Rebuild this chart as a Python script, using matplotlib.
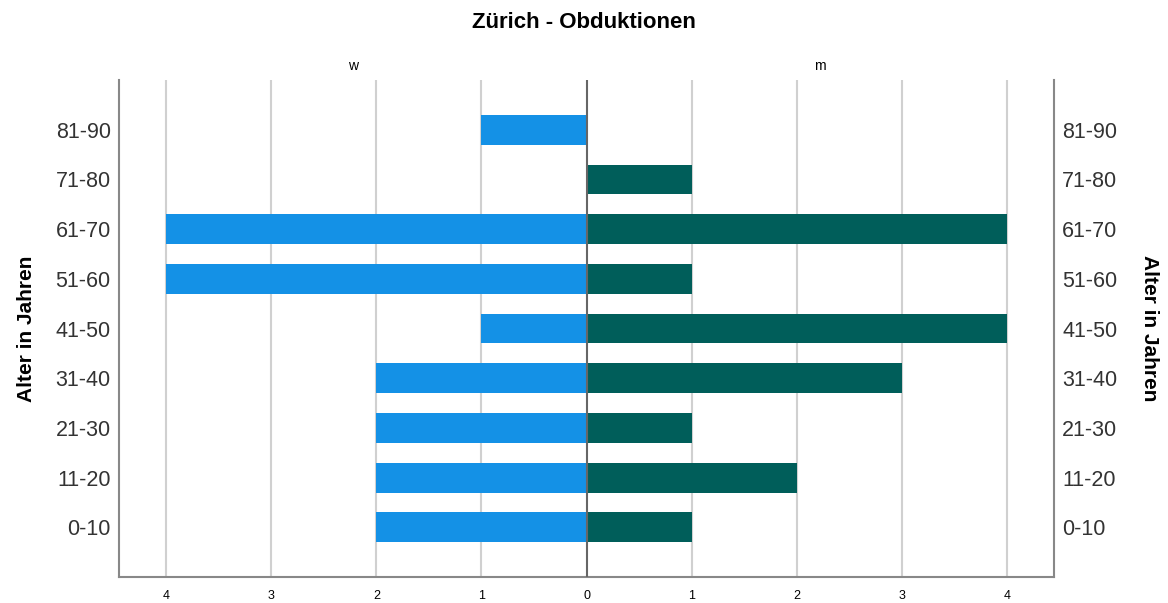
import numpy as np
import matplotlib.pyplot as plt

plt.rcParams['font.family'] = ['Liberation Sans', 'DejaVu Sans']

# Data
age_groups = ["0-10", "11-20", "21-30", "31-40", "41-50", "51-60", "61-70", "71-80", "81-90"]
female = [2, 2, 2, 2, 1, 4, 4, 0, 1]   # w
male = [1, 2, 1, 3, 4, 1, 4, 1, 0]     # m
x_ticks = [-4, -3, -2, -1, 0, 1, 2, 3, 4]

blue = '#1491E6'
teal = '#005E5A'

fig = plt.figure(figsize=(11.68, 6.03), dpi=100)
ax = fig.add_axes([0.1019, 0.0431, 0.8005, 0.8242])

y = np.arange(len(age_groups))
ax.barh(y, [-v for v in female], height=0.6, color=blue, zorder=3)
ax.barh(y, male, height=0.6, color=teal, zorder=3)

ax.set_xlim(-4.45, 4.45)
ax.set_ylim(-1, len(age_groups))

for t in x_ticks:
    if t != 0:
        ax.axvline(t, color='#d0d0d0', lw=1.5, zorder=1)
ax.axvline(0, color='#666666', lw=1.5, zorder=4)

ax.set_xticks(x_ticks)
ax.set_xticklabels([str(abs(t)) for t in x_ticks], fontsize=9)
ax.tick_params(axis='x', length=0, pad=9)
ax.tick_params(axis='y', length=0, pad=6, labelsize=15.5, labelcolor='#333333')
ax.set_yticks(y)
ax.set_yticklabels(age_groups)

for side in ['left', 'right', 'bottom']:
    ax.spines[side].set_color('#888888')
    ax.spines[side].set_linewidth(1.5)
ax.spines['top'].set_visible(False)

ax2 = ax.twinx()
ax2.set_ylim(ax.get_ylim())
ax2.set_yticks(y)
ax2.set_yticklabels(age_groups)
ax2.tick_params(axis='y', length=0, pad=6, labelsize=15.5, labelcolor='#333333')
for s in ax2.spines.values():
    s.set_visible(False)

ax.set_ylabel("Alter in Jahren", fontsize=15, fontweight='bold', labelpad=14)
ax2.set_ylabel("Alter in Jahren", fontsize=15, fontweight='bold', rotation=270, labelpad=30)

ax.text(-2.22, 1.015, "w", transform=ax.get_xaxis_transform(), ha='center', va='bottom', fontsize=10)
ax.text(2.22, 1.015, "m", transform=ax.get_xaxis_transform(), ha='center', va='bottom', fontsize=10)

fig.suptitle("Zürich - Obduktionen", y=0.98, fontsize=16, fontweight='bold')

fig.savefig("out.png", dpi=100)
